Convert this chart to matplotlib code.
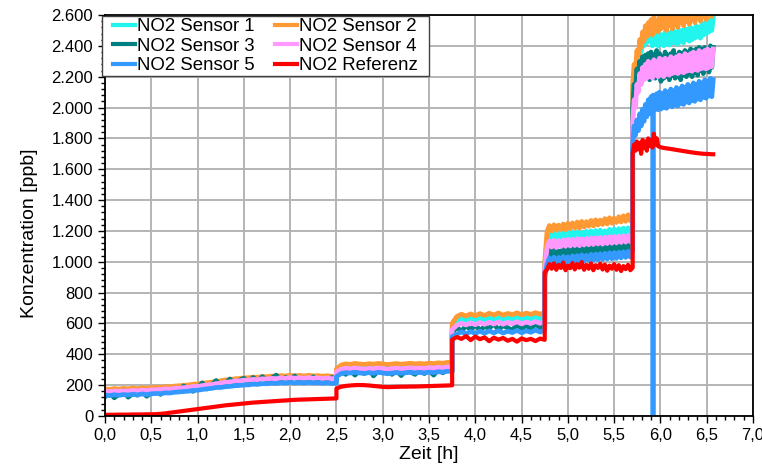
import numpy as np
import matplotlib
matplotlib.use("Agg")
import matplotlib.pyplot as plt
from matplotlib.patches import Rectangle
from matplotlib.transforms import IdentityTransform
from matplotlib.ticker import FuncFormatter, MultipleLocator

plt.rcParams["font.family"] = ["Liberation Sans", "DejaVu Sans"]

# measurement phases [h]; each series holds one value list per phase
SEG_EDGES = [0.0, 2.5, 3.75, 4.75, 5.7, 6.57]

LABELS = ["NO2 Sensor 1", "NO2 Sensor 2", "NO2 Sensor 3",
          "NO2 Sensor 4", "NO2 Sensor 5", "NO2 Referenz"]

# NO2 concentration [ppb]
sensor1 = [
    [168, 166, 170, 167, 171, 169, 173, 170, 175, 172,
     176, 178, 178, 182, 181, 186, 188, 191, 193, 198,
     199, 204, 208, 211, 217, 220, 226, 228, 233, 235,
     239, 240, 244, 243, 248, 247, 251, 249, 254, 251,
     256, 252, 255, 251, 256, 252, 254, 250, 253, 249, 251],
    [295, 318, 324, 321, 327, 323, 320, 325, 322, 327,
     324, 319, 323, 326, 322, 325, 328, 324, 327, 323,
     329, 326, 331, 328, 334, 332],
    [580, 618, 632, 620, 634, 622, 636, 624, 638, 626,
     640, 625, 637, 628, 641, 627, 639, 630, 642, 631, 644],
    [980,
     1145, 1180, 1150, 1185, 1148, 1182, 1155, 1188, 1152, 1190,
     1158, 1192, 1160, 1195, 1162, 1190, 1165, 1198, 1168, 1200,
     1170, 1202, 1172, 1205, 1175, 1200, 1178, 1210, 1180, 1212,
     1182, 1215, 1185, 1218, 1188, 1220, 1190, 1225],
    [2100, 2220, 2200, 2320, 2290, 2400, 2360, 2460, 2400, 2520,
     2420, 2540, 2430, 2500, 2400, 2480, 2410, 2470, 2400, 2480,
     2410, 2470, 2400, 2490, 2415, 2480, 2405, 2490, 2420, 2500,
     2420, 2490, 2410, 2500, 2430, 2500, 2420, 2510, 2440, 2510,
     2430, 2520, 2440, 2510, 2450, 2530, 2460, 2520, 2450, 2540,
     2470, 2550, 2480, 2560, 2490, 2570, 2500, 2580],
]

sensor2 = [
    [176, 172, 178, 174, 179, 176, 181, 177, 183, 179,
     184, 186, 185, 190, 189, 194, 196, 199, 201, 206,
     207, 212, 216, 219, 225, 228, 234, 236, 241, 243,
     247, 248, 252, 251, 256, 255, 259, 257, 262, 259,
     264, 260, 263, 259, 264, 260, 262, 258, 261, 257, 259],
    [305, 330, 338, 335, 341, 337, 334, 339, 336, 341,
     338, 333, 337, 340, 336, 339, 342, 338, 341, 337,
     343, 340, 345, 342, 348, 346],
    [600, 645, 660, 648, 662, 650, 664, 652, 666, 655,
     668, 654, 665, 657, 669, 656, 667, 659, 670, 660, 672],
    [1000,
     1195, 1235, 1200, 1240, 1205, 1238, 1210, 1245, 1208, 1250,
     1215, 1252, 1220, 1258, 1218, 1262, 1225, 1260, 1230, 1268,
     1232, 1272, 1238, 1270, 1242, 1280, 1245, 1285, 1250, 1282,
     1255, 1292, 1258, 1298, 1262, 1305, 1265, 1310],
    [2150, 2280, 2250, 2370, 2330, 2440, 2390, 2490, 2430, 2530,
     2460, 2550, 2480, 2570, 2470, 2590, 2500, 2560, 2490, 2600,
     2510, 2610, 2520, 2590, 2500, 2620, 2530, 2600, 2510, 2630,
     2540, 2620, 2520, 2640, 2550, 2630, 2530, 2650, 2560, 2640,
     2540, 2660, 2570, 2650, 2550, 2670, 2580, 2660, 2560, 2680,
     2590, 2670, 2570, 2690, 2600, 2680, 2590, 2700],
]

sensor3 = [
    [125, 150, 118, 140, 165, 122, 145, 135, 160, 128,
     150, 170, 140, 175, 155, 180, 165, 195, 170, 160,
     185, 215, 175, 200, 230, 190, 215, 240, 205, 230,
     245, 215, 250, 225, 255, 230, 245, 265, 225, 250,
     235, 260, 220, 245, 230, 255, 215, 240, 225, 250, 230],
    [260, 290, 270, 300, 265, 295, 275, 310, 260, 290,
     280, 305, 270, 295, 262, 300, 285, 270, 310, 275,
     295, 265, 300, 280, 305, 290],
    [540, 575, 550, 585, 560, 592, 555, 580, 568, 598,
     558, 586, 572, 556, 594, 566, 588, 562, 598, 572, 582],
    [930,
     1010, 1080, 1030, 1095, 1000, 1070, 1040, 1100, 1020, 1085,
     1045, 1105, 1030, 1090, 1050, 1110, 1035, 1095, 1055, 1115,
     1040, 1100, 1060, 1120, 1045, 1105, 1065, 1125, 1050, 1110,
     1070, 1130, 1055, 1115, 1075, 1135, 1060, 1120],
    [2000, 2150, 2100, 2250, 2180, 2300, 2200, 2330, 2190, 2340,
     2200, 2350, 2180, 2360, 2210, 2340, 2190, 2370, 2200, 2350,
     2170, 2330, 2190, 2360, 2200, 2340, 2180, 2350, 2210, 2370,
     2190, 2340, 2200, 2360, 2180, 2350, 2210, 2370, 2200, 2360,
     2220, 2380, 2200, 2370, 2230, 2380, 2210, 2390, 2240, 2380,
     2220, 2390, 2250, 2380, 2230, 2400, 2260, 2390],
]

sensor4 = [
    [160, 158, 162, 159, 164, 161, 166, 163, 168, 165,
     170, 171, 171, 176, 174, 179, 181, 184, 186, 191,
     192, 197, 201, 204, 210, 213, 219, 221, 226, 228,
     232, 233, 237, 236, 241, 240, 244, 242, 247, 244,
     249, 245, 248, 244, 249, 245, 247, 243, 246, 242, 244],
    [285, 303, 309, 306, 311, 307, 304, 309, 306, 311,
     308, 303, 307, 310, 306, 309, 312, 308, 311, 307,
     313, 310, 315, 312, 318, 316],
    [560, 588, 602, 590, 604, 592, 606, 594, 608, 596,
     610, 595, 607, 598, 611, 597, 609, 600, 612, 601, 614],
    [950,
     1090, 1135, 1095, 1140, 1092, 1138, 1098, 1142, 1100, 1145,
     1102, 1146, 1105, 1150, 1104, 1148, 1108, 1152, 1110, 1155,
     1112, 1156, 1115, 1158, 1114, 1160, 1118, 1162, 1120, 1165,
     1122, 1166, 1125, 1168, 1127, 1170, 1130, 1172],
    [1900, 2050, 2000, 2150, 2100, 2220, 2150, 2260, 2180, 2280,
     2190, 2300, 2200, 2290, 2190, 2310, 2210, 2300, 2200, 2320,
     2210, 2310, 2200, 2320, 2215, 2310, 2210, 2330, 2220, 2320,
     2225, 2330, 2220, 2340, 2230, 2330, 2225, 2350, 2235, 2340,
     2240, 2350, 2235, 2360, 2245, 2350, 2240, 2370, 2250, 2360,
     2255, 2370, 2250, 2380, 2260, 2370, 2265, 2380],
]

sensor5 = [
    [136, 132, 138, 134, 139, 136, 141, 137, 143, 139,
     144, 146, 145, 150, 149, 154, 156, 159, 161, 166,
     167, 172, 176, 179, 185, 185, 190, 192, 196, 198,
     201, 202, 206, 205, 210, 209, 213, 211, 216, 213,
     218, 214, 217, 213, 218, 214, 216, 212, 215, 211, 213],
    [255, 275, 281, 278, 284, 279, 276, 281, 277, 283,
     279, 274, 278, 281, 277, 280, 284, 279, 282, 278,
     285, 281, 287, 284, 290, 288],
    [515, 530, 546, 533, 548, 535, 550, 537, 552, 539,
     553, 538, 550, 541, 555, 540, 552, 543, 557, 544, 558],
    [900,
     985, 1025, 990, 1030, 988, 1028, 995, 1035, 992, 1032,
     998, 1038, 1000, 1040, 1002, 1045, 1005, 1042, 1008, 1048,
     1010, 1050, 1012, 1052, 1015, 1055, 1018, 1058, 1020, 1060,
     1022, 1062, 1025, 1065, 1028, 1068, 1030, 1070],
    [1750, 1880, 1820, 1920, 1850, 1960, 1880, 1990, 1910, 2020,
     1940, 2050, 1960, 2070, 1980, 2080, 1990, 2090, 1985, 2100,
     1990, 2090, 2000, 2110, 1995, 2100, 2010, 2120, 2005, 2110,
     2015, 2130, 2010, 2120, 2025, 2140, 2020, 2130, 2035, 2150,
     2030, 2140, 2045, 2160, 2040, 2150, 2055, 2170, 2050, 2160,
     2065, 2180, 2060, 2170, 2075, 2190, 2070, 2180],
]
# sensor 5 drops out once (time [h], value [ppb])
SENSOR5_DROPOUT = (5.92, 0.0)

referenz = [
    [8, 8, 8, 9, 9, 9, 10, 10, 10, 11,
     11, 12, 14, 17, 21, 25, 29, 33, 37, 41,
     45, 49, 53, 57, 61, 65, 69, 72, 75, 78,
     81, 84, 87, 89, 91, 93, 95, 97, 99, 101,
     103, 105, 106, 107, 108, 109, 110, 111, 112, 113, 114],
    [178, 190, 195, 198, 200, 201, 200, 198, 195, 192,
     189, 187, 188, 189, 190, 190, 191, 191, 192, 193,
     194, 195, 196, 197, 198, 199],
    [495, 512, 500, 518, 492, 515, 498, 510, 485, 508,
     495, 506, 488, 500, 482, 503, 492, 500, 486, 502, 494],
    [930,
     950, 985, 955, 990, 948, 980, 960, 995, 945, 975,
     958, 992, 950, 985, 962, 998, 948, 980, 955, 990,
     945, 978, 960, 988, 950, 982, 942, 975, 955, 985,
     948, 978, 940, 972, 952, 980, 945, 962],
    [1700, 1760, 1720, 1780, 1730, 1770, 1700, 1790, 1740, 1780,
     1720, 1800, 1750, 1790, 1740, 1830, 1760, 1800, 1750, 1745,
     1742, 1740, 1738, 1737, 1735, 1734, 1733, 1731, 1730, 1728,
     1727, 1725, 1724, 1722, 1721, 1719, 1718, 1716, 1715, 1713,
     1712, 1710, 1709, 1708, 1706, 1705, 1704, 1703, 1702, 1701,
     1700, 1700, 1699, 1699, 1698, 1698, 1697, 1697],
]

COLORS = ["#22f5ee", "#ff9933", "#008080", "#ff99ff", "#3399ff", "#ff0000"]


def build(segments):
    ts, ys = [], []
    for k, vals in enumerate(segments):
        ts.append(np.linspace(SEG_EDGES[k], SEG_EDGES[k + 1], len(vals)))
        ys.append(np.asarray(vals, dtype=float))
    return np.concatenate(ts), np.concatenate(ys)


def with_dropout(t, y, drop):
    td, yd = drop
    i = int(np.searchsorted(t, td))
    t = np.insert(t, i, [td, td, td])
    y = np.insert(y, i, [y[i - 1], yd, y[i]])
    return t, y


fig = plt.figure(figsize=(7.62, 4.73), dpi=100)
ax = fig.add_axes([0.1378, 0.1205, 0.8504, 0.8478])

series = [sensor1, sensor2, sensor3, sensor4, sensor5, referenz]
handles = []
for i, (segs, color, label) in enumerate(zip(series, COLORS, LABELS)):
    t, y = build(segs)
    if segs is sensor5:
        t, y = with_dropout(t, y, SENSOR5_DROPOUT)
    lw = 3.0 if segs is referenz else 3.4
    h, = ax.plot(t, y, color=color, lw=lw, label=label, zorder=3 + i)
    handles.append(h)

ax.set_xlim(0, 7)
ax.set_ylim(0, 2600)
ax.xaxis.set_major_locator(MultipleLocator(0.5))
ax.xaxis.set_minor_locator(MultipleLocator(0.1))
ax.yaxis.set_major_locator(MultipleLocator(200))
ax.yaxis.set_minor_locator(MultipleLocator(40))
ax.xaxis.set_major_formatter(FuncFormatter(lambda v, _: f"{v:.1f}".replace(".", ",")))
ax.yaxis.set_major_formatter(FuncFormatter(lambda v, _: f"{int(round(v)):,}".replace(",", ".")))
ax.tick_params(which="major", direction="out", length=5, width=1, labelsize=12, colors="black")
ax.tick_params(which="minor", direction="out", length=3, width=1)
ax.grid(True, which="major", color="#b4b4b4", lw=1.4, zorder=0)
for s in ax.spines.values():
    s.set_color("black")
    s.set_linewidth(1.3)
    s.set_zorder(20)

ax.set_xlabel("Zeit [h]", fontsize=14, labelpad=2)
ax.set_ylabel("Konzentration [ppb]", fontsize=14)
ax.yaxis.set_label_coords(-0.103, 0.456)

# row-wise legend order: S1 S2 / S3 S4 / S5 Ref
order = [0, 2, 4, 1, 3, 5]
leg = ax.legend([handles[k] for k in order], [LABELS[k] for k in order],
                loc="upper left", bbox_to_anchor=(0.0123, 0.9925), ncol=2, fontsize=13.4,
                handlelength=1.2, handletextpad=0.1, columnspacing=1.07,
                labelspacing=0.14, borderpad=0, borderaxespad=0, frameon=False)
leg.set_zorder(30)
for h in leg.get_lines():
    h.set_linewidth(3)

# white legend box, wider padding left/right than top/bottom
fig.canvas.draw()
bb = leg.get_window_extent()
box = Rectangle((bb.x0 - 11, bb.y0 - 2), bb.width + 22, bb.height + 4,
                transform=IdentityTransform(), facecolor="white",
                edgecolor="#404040", lw=1.0, zorder=29, clip_on=False)
ax.add_artist(box)

fig.savefig("out.png", dpi=100)
